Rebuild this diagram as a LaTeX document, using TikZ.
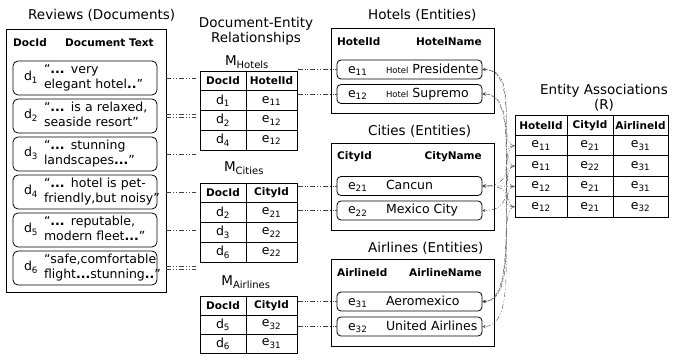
\documentclass[tikz,border=0pt]{standalone}
\usepackage{fontspec}
\setmainfont{DejaVu Sans}
\usetikzlibrary{arrows,fit}
\newcommand{\did}[1]{d\textsubscript{#1}}
\newcommand{\eid}[1]{e\textsubscript{#1}}
\newcommand{\Mrel}[1]{M\textsubscript{\fontsize{10}{10}\selectfont #1}}
\newcommand{\bdots}{\textbf{...}}
\newcommand{\ttlfont}{\fontsize{13.5}{15}\selectfont}
\newcommand{\txtfont}{\fontsize{12.5}{14.5}\selectfont}
\newcommand{\hdfont}{\fontsize{10.5}{12}\selectfont\bfseries}
\newcommand{\smfont}{\fontsize{8.5}{10}\selectfont}
\newcommand{\entry}[2]{\makebox[135pt][l]{\makebox[44pt][l]{\hspace{6pt}\eid{#1}}#2}}
\tikzset{
  docbox/.style={draw, line width=0.8pt, rounded corners=5pt, minimum width=144pt,
    minimum height=34pt, text width=122pt, inner xsep=11pt, inner ysep=0pt,
    align=left, font=\txtfont},
  entbox/.style={draw, line width=0.8pt, rounded corners=4pt, minimum width=145pt,
    minimum height=19pt, inner xsep=5pt, inner ysep=0pt, font=\txtfont},
  outbox/.style={draw, line width=0.8pt, inner sep=0pt},
  cell/.style={draw, line width=0.8pt, inner sep=0pt, font=\txtfont},
  hcell/.style={cell, font=\hdfont},
  hd/.style={font=\hdfont, inner sep=0pt},
  ttl/.style={font=\ttlfont, inner sep=0pt},
  link/.style={black!75, dash pattern=on 5pt off 2pt on 0.8pt off 2pt on 0.8pt off 2pt},
  assoc/.style={link, ->, >=stealth},
}

\begin{document}
\begin{tikzpicture}[x=1pt,y=-1pt]
  \useasboundingbox (0,0) rectangle (673,363);
  % reviews (documents)
  \node[ttl, anchor=west] (trev) at (28,15) {Reviews (Documents)};
  \node[outbox, minimum width=159.5pt, minimum height=263pt] (rev) at (86.25,160.5) {};
  \node[hd, anchor=west] (hdid) at (13,43) {DocId};
  \node[hd, anchor=west] (hdtx) at (65,43) {Document Text};
  \foreach \i/\a/\b in {1/{“\bdots{} very}/{elegant hotel\textbf{..}”},
      2/{“\bdots{} is a relaxed,}/{seaside resort”},
      3/{“\bdots{} stunning}/{landscapes\textbf{...}”},
      4/{“\bdots{} hotel is pet-}/{friendly,but noisy”},
      5/{“\bdots{} reputable,}/{modern fleet\textbf{...}”},
      6/{“safe,comfortable}/{flight\textbf{...}stunning\textbf{..}”}}{
    \node[docbox] (d\i) at (85,40+\i*38)
      {\makebox[20pt][l]{\did{\i}}\begin{tabular}{@{}l@{}}\a\\\b\end{tabular}};
  }

  % document-entity relationships
  \node[ttl, align=center] (tder) at (256,31) {Document-Entity\\Relationships};
  \node[ttl] (tmh) at (247,62) {\Mrel{Hotels}};
  \node[hcell, minimum width=46pt, minimum height=19.75pt] (mh-0-1) at (223,80.9) {DocId};
  \node[hcell, minimum width=51pt, minimum height=19.75pt] (mh-0-2) at (271.5,80.9) {HotelId};
  \foreach \k/\a/\b in {1/1/11, 2/2/12, 3/4/12}{
    \node[cell, minimum width=46pt, minimum height=19.75pt] (mh-\k-1) at (223,80.9+\k*19.75) {\did{\a}};
    \node[cell, minimum width=51pt, minimum height=19.75pt] (mh-\k-2) at (271.5,80.9+\k*19.75) {\eid{\b}};
  }
  \node[fit=(mh-0-1)(mh-3-2), inner sep=0pt] (mh) {};

  \node[ttl] (tmc) at (244,168) {\Mrel{Cities}};
  \node[hcell, minimum width=46pt, minimum height=19.75pt] (mc-0-1) at (223,192.9) {DocId};
  \node[hcell, minimum width=51pt, minimum height=19.75pt] (mc-0-2) at (271.5,192.9) {CityId};
  \foreach \k/\a/\b in {1/2/21, 2/3/22, 3/6/22}{
    \node[cell, minimum width=46pt, minimum height=19.75pt] (mc-\k-1) at (223,192.9+\k*19.75) {\did{\a}};
    \node[cell, minimum width=51pt, minimum height=19.75pt] (mc-\k-2) at (271.5,192.9+\k*19.75) {\eid{\b}};
  }
  \node[fit=(mc-0-1)(mc-3-2), inner sep=0pt] (mc) {};

  \node[ttl] (tma) at (246,282) {\Mrel{Airlines}};
  \node[hcell, minimum width=46pt, minimum height=19pt] (ma-0-1) at (223,305.5) {DocId};
  \node[hcell, minimum width=51pt, minimum height=19pt] (ma-0-2) at (271.5,305.5) {CityId};
  \foreach \k/\a/\b in {1/5/32, 2/6/31}{
    \node[cell, minimum width=46pt, minimum height=19pt] (ma-\k-1) at (223,305.5+\k*19) {\did{\a}};
    \node[cell, minimum width=51pt, minimum height=19pt] (ma-\k-2) at (271.5,305.5+\k*19) {\eid{\b}};
  }
  \node[fit=(ma-0-1)(ma-2-2), inner sep=0pt] (ma) {};

  % entities
  \node[ttl, anchor=west] (thot) at (368,15) {Hotels (Entities)};
  \node[outbox, minimum width=163pt, minimum height=85pt] (hot) at (412.5,70.5) {};
  \node[hd, anchor=west] (hhid) at (337,42) {HotelId};
  \node[hd, anchor=east] (hhnm) at (482,42) {HotelName};
  \node[entbox] (e11) at (409.5,69.5) {\entry{11}{{\smfont Hotel} Presidente}};
  \node[entbox] (e12) at (409.5,94) {\entry{12}{{\smfont Hotel} Supremo}};

  \node[ttl, anchor=west] (tcit) at (368,131) {Cities (Entities)};
  \node[outbox, minimum width=163pt, minimum height=87pt] (cit) at (412.5,186.5) {};
  \node[hd, anchor=west] (hcid) at (337,157) {CityId};
  \node[hd, anchor=east] (hcnm) at (482,157) {CityName};
  \node[entbox] (e21) at (409.5,186) {\entry{21}{Cancun}};
  \node[entbox] (e22) at (409.5,210.5) {\entry{22}{Mexico City}};

  \node[ttl, anchor=west] (tair) at (368,248) {Airlines (Entities)};
  \node[outbox, minimum width=163pt, minimum height=87pt] (air) at (412.5,302.5) {};
  \node[hd, anchor=west] (haid) at (337,273) {AirlineId};
  \node[hd, anchor=east] (hanm) at (482,273) {AirlineName};
  \node[entbox] (e31) at (409.5,301.5) {\entry{31}{Aeromexico}};
  \node[entbox] (e32) at (409.5,326.5) {\entry{32}{United Airlines}};

  % entity associations
  \node[ttl, align=center] (tass) at (604,98) {Entity Associations\\(R)};
  \foreach \c/\x/\w/\h in {1/541/52pt/HotelId, 2/590/46pt/CityId, 3/640.5/55pt/AirlineId}{
    \node[hcell, minimum width=\w, minimum height=20.4pt] (r-0-\c) at (\x,125.2) {\h};
  }
  \foreach \k/\a/\b/\cc in {1/11/21/31, 2/11/22/31, 3/12/21/31, 4/12/21/32}{
    \node[cell, minimum width=52pt, minimum height=20.4pt] (r-\k-1) at (541,125.2+\k*20.4) {\eid{\a}};
    \node[cell, minimum width=46pt, minimum height=20.4pt] (r-\k-2) at (590,125.2+\k*20.4) {\eid{\b}};
    \node[cell, minimum width=55pt, minimum height=20.4pt] (r-\k-3) at (640.5,125.2+\k*20.4) {\eid{\cc}};
  }

  % documents to relationships
  \foreach \i in {1,3,4,5}
    \draw[link] (rev.east |- d\i.east) -- ([xshift=-3pt]mh.west |- d\i.east);
  \foreach \i in {2,6}{
    \draw[link] ([yshift=1.5pt]rev.east |- d\i.east) -- ([xshift=-3pt,yshift=1.5pt]mh.west |- d\i.east);
    \draw[link] ([yshift=-1.5pt]rev.east |- d\i.east) -- ([xshift=-3pt,yshift=-1.5pt]mh.west |- d\i.east);
  }
  % relationships to entities
  \draw[link] (mh.east |- e11.west) -- (e11.west);
  \draw[link] (mh.east |- e12.west) -- (e12.west);
  \draw[link] (mc.east |- e21.west) -- (e21.west);
  \draw[link] (mc.east |- e22.west) -- (e22.west);
  \draw[link] (ma.east |- e31.west) -- (e31.west);
  \draw[link] (ma.east |- e32.west) -- (e32.west);
  % associations to entities
  \foreach \k/\a/\b/\cc in {1/11/21/31, 2/11/22/31, 3/12/21/31, 4/12/21/32}{
    \draw[assoc] (r-\k-1.west) .. controls +(-20,0) and +(40,0) .. (e\a.east);
    \draw[assoc] (r-\k-1.west) .. controls +(-20,0) and +(40,0) .. (e\b.east);
    \draw[assoc] (r-\k-1.west) .. controls +(-20,0) and +(40,0) .. (e\cc.east);
  }
\end{tikzpicture}
\end{document}
